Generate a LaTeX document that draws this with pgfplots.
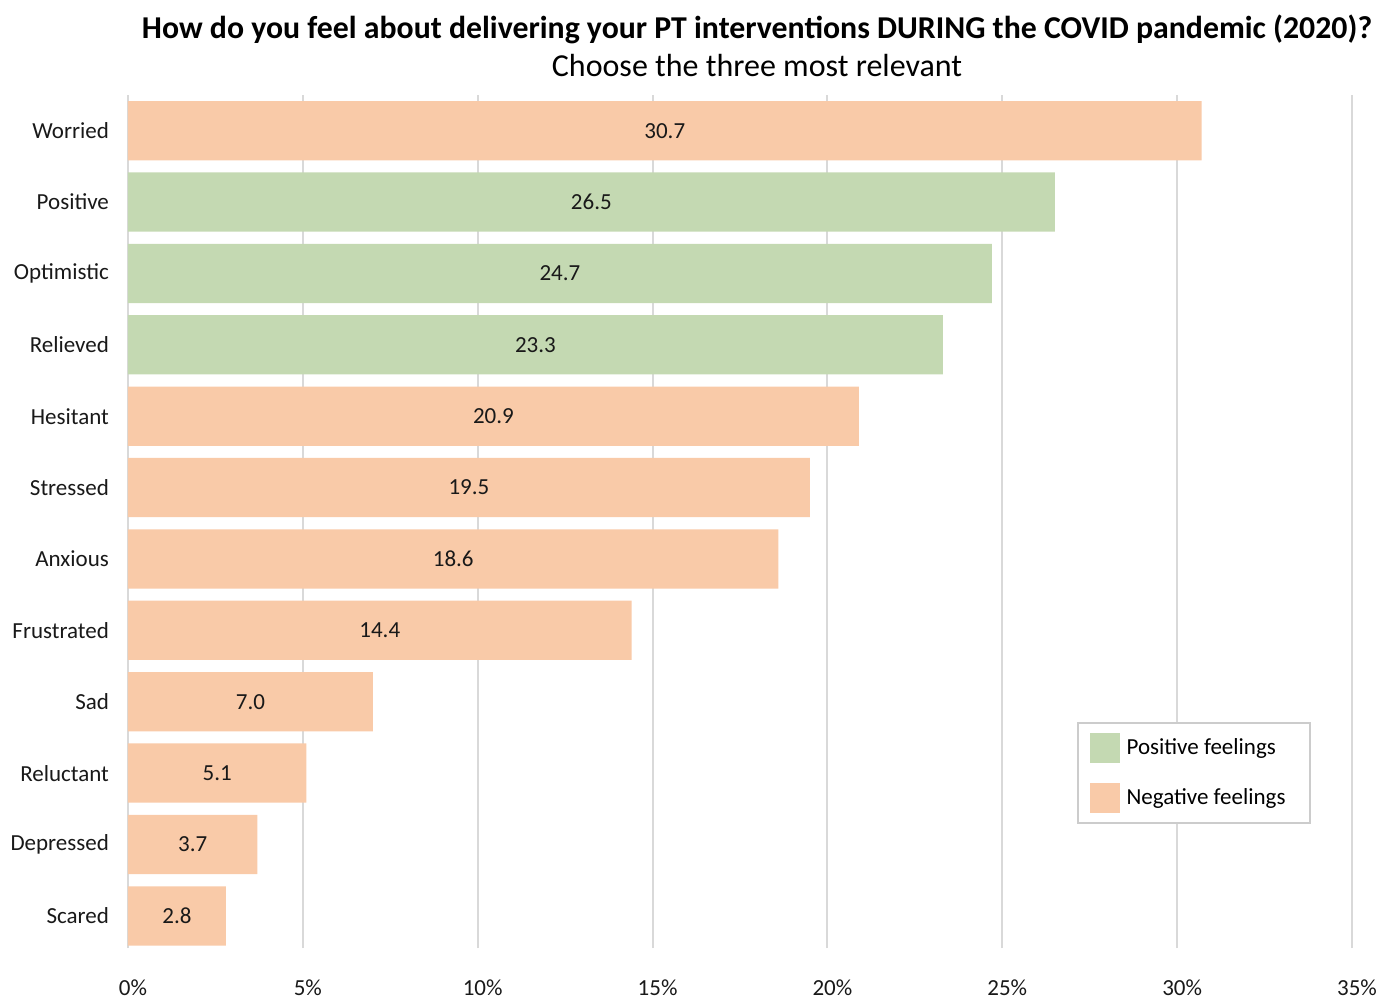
\documentclass[border=0pt]{standalone}
\usepackage{pgfplots}
\pgfplotsset{compat=1.18}
\usepackage{pgfplotstable}
\usepackage{fontspec}
\setmainfont{Carlito}

\definecolor{posgreen}{HTML}{C4D9B2}
\definecolor{negorange}{HTML}{F9CAA8}
\definecolor{gridgray}{HTML}{D9D9D9}

% y = row position (Worried at the top = 11), v = percent
\pgfplotstableread{
y v
10 26.5
9 24.7
8 23.3
}\postable
\pgfplotstableread{
y v
11 30.7
7 20.9
6 19.5
5 18.6
4 14.4
3 7.0
2 5.1
1 3.7
0 2.8
}\negtable

\pgfplotsset{
  mybar/.style={xbar, bar shift=0pt, bar width=0.83, draw=none, fill=#1,
    legend image code/.code={\fill[##1] (0pt,-7.5pt) rectangle (15pt,7.5pt);}},
  vallabel/.style={only marks, mark=none, forget plot, nodes near coords,
    point meta=explicit symbolic,
    every node near coord/.append style={anchor=center, text=black!90,
      font=\fontsize{11.5}{14}\selectfont}},
}

\begin{document}
\begin{tikzpicture}
\useasboundingbox (-64pt,-27pt) rectangle (626.5pt,474pt);
\begin{axis}[
  at={(0,0)}, anchor=south west,
  scale only axis, width=612pt, height=426.5pt,
  xmin=0, xmax=35, ymin=-0.45, ymax=11.5,
  axis line style={draw=none},
  major tick length=0pt,
  xmajorgrids, grid style={gridgray, line width=1pt},
  xtick={0,5,...,35},
  xticklabels={0\%,5\%,10\%,15\%,20\%,25\%,30\%,35\%},
  ytick={0,...,11},
  yticklabels={Scared,Depressed,Reluctant,Sad,Frustrated,Anxious,Stressed,Hesitant,Relieved,Optimistic,Positive,Worried},
  tick label style={font=\fontsize{11.5}{14}\selectfont, text=black!90},
  xticklabel style={anchor=center, yshift=-20pt, xshift=2.5pt},
  yticklabel style={anchor=east, xshift=-6pt},
  legend style={at={(0.775,0.265)}, anchor=north west, draw=black!20,
    line width=1pt, font=\fontsize{11.5}{14}\selectfont,
    inner xsep=6pt, inner ysep=5pt, row sep=10pt, cells={anchor=west}},
  legend cell align=left,
]
\addplot[mybar=posgreen] table[x=v, y=y] {\postable};
\addlegendentry{\hspace*{1.5pt}Positive feelings\hspace*{4pt}}
\addplot[mybar=negorange] table[x=v, y=y] {\negtable};
\addlegendentry{\hspace*{1.5pt}Negative feelings\hspace*{4pt}}
\addplot[vallabel] table[x expr=\thisrow{v}/2, y=y, meta=v] {\postable};
\addplot[vallabel] table[x expr=\thisrow{v}/2, y=y, meta=v] {\negtable};
\end{axis}
\node[font=\bfseries\fontsize{15.9}{18}\selectfont] at (314.5pt,459.5pt)
  {How do you feel about delivering your PT interventions DURING the COVID pandemic (2020)?};
\node[font=\fontsize{16}{18}\selectfont] at (314.5pt,441pt)
  {Choose the three most relevant};
\end{tikzpicture}
\end{document}
